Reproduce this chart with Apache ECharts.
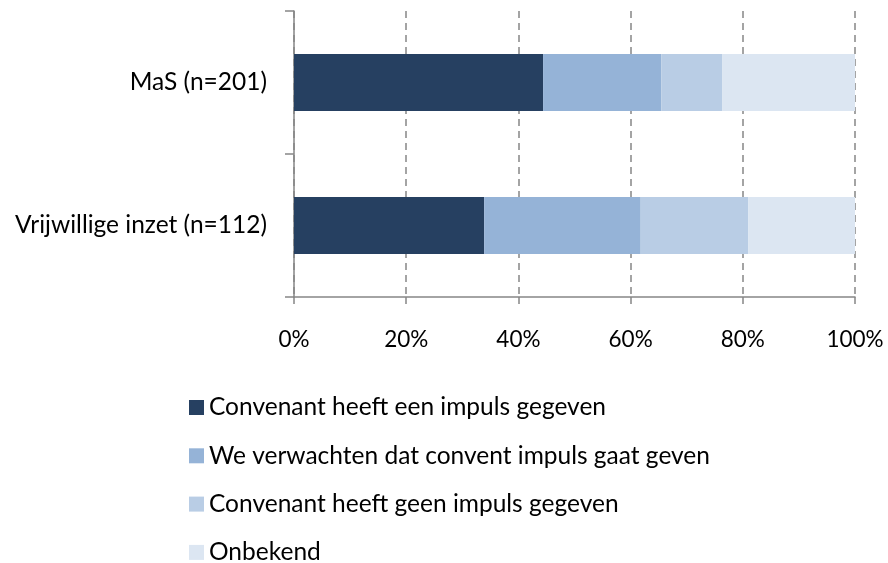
<!DOCTYPE html>
<html><head><meta charset="utf-8">
<script src="https://cdn.jsdelivr.net/npm/echarts@6/dist/echarts.min.js"></script>
<style>html,body{margin:0;padding:0;background:#fff}#c{width:888px;height:563px}</style>
</head><body><div id="c"></div>
<script>
const categories = ['MaS (n=201)', 'Vrijwillige inzet (n=112)'];
const seriesNames = ['Convenant heeft een impuls gegeven', 'We verwachten dat convent impuls gaat geven', 'Convenant heeft geen impuls gegeven', 'Onbekend'];
const impulsGegeven = [44.4, 33.9];
const verwachten = [21.1, 27.9];
const geenImpuls = [10.8, 19.2];
const onbekend = [23.7, 19.0];
const colors = ['#264061', '#95B3D7', '#B9CDE5', '#DCE6F2'];
const xTicks = [0, 20, 40, 60, 80, 100];

const values = [impulsGegeven, verwachten, geenImpuls, onbekend];
const font = 'Lato, "Open Sans", sans-serif';
const chart = echarts.init(document.getElementById('c'));
chart.setOption({
  animation: false,
  grid: {left: 294, right: 33, top: 11, bottom: 266, containLabel: false},
  xAxis: {
    type: 'value', min: xTicks[0], max: xTicks[xTicks.length-1], interval: 20,
    axisLine: {show: true, lineStyle: {color: '#868686', width: 1.5}},
    axisTick: {show: true, length: 7, lineStyle: {color: '#868686', width: 1.5}},
    splitLine: {show: true, lineStyle: {color: '#868686', type: [7, 5], width: 1.5}},
    axisLabel: {formatter: '{value}%', color: '#000', fontFamily: font, fontSize: 22.5, margin: 31}
  },
  yAxis: {
    type: 'category', data: categories, inverse: true,
    axisLine: {show: true, lineStyle: {color: '#868686', width: 1.5}},
    axisTick: {show: true, length: 9, lineStyle: {color: '#868686', width: 1.5}},
    axisLabel: {color: '#000', fontFamily: font, fontSize: 24.5, margin: 27}
  },
  legend: {
    orient: 'vertical', left: 189, top: 395, height: 220, padding: 0,
    itemWidth: 15, itemHeight: 15, itemGap: 23.3, itemTextGap: 8,
    icon: 'rect',
    textStyle: {color: '#000', fontFamily: font, fontSize: 24.5, lineHeight: 25},
    data: seriesNames
  },
  series: seriesNames.map((n, i) => ({
    name: n, type: 'bar', stack: 'total', data: values[i], barWidth: 57,
    itemStyle: {color: colors[i]}
  }))
});
</script></body></html>
